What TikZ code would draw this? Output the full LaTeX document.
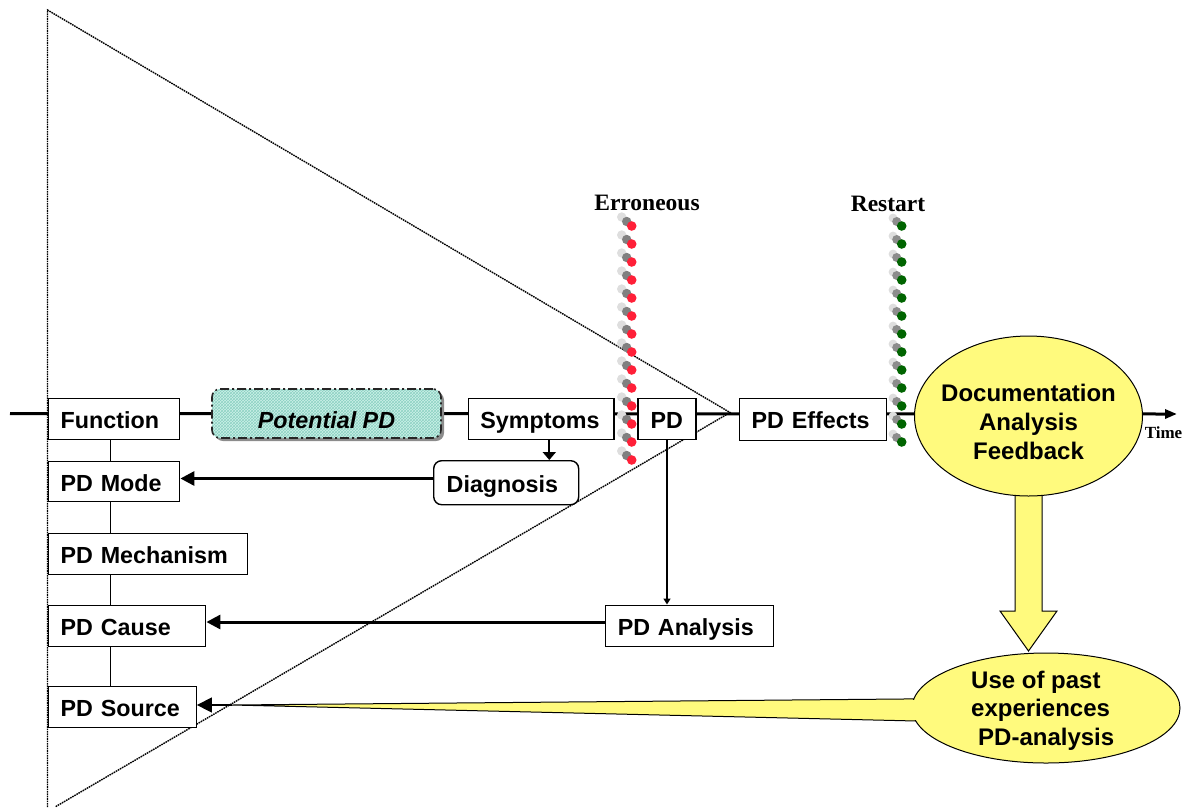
\documentclass[tikz,border=0pt]{standalone}
\usepackage{fontspec}
\setmainfont{Liberation Sans}
\newfontfamily\timesf{Liberation Serif}
\usetikzlibrary{arrows.meta,shapes.geometric,patterns,shadows}
\definecolor{yel}{RGB}{255,250,125}
\definecolor{mint}{RGB}{205,240,232}
\definecolor{hatch}{RGB}{140,210,195}
\definecolor{dotred}{RGB}{255,32,56}
\definecolor{dotgreen}{RGB}{0,100,0}
\definecolor{lgray}{RGB}{222,222,222}
\definecolor{mgray}{RGB}{128,128,128}
\begin{document}
\begin{tikzpicture}[x=1pt,y=-1pt,
  box/.style={draw, line width=1.4pt, fill=white, anchor=north west,
    font=\bfseries\fontsize{23.3}{27}\selectfont, inner xsep=12.5pt, inner ysep=0pt,
    align=left, text height=19pt, text depth=0pt},
  bigarrow/.style={line width=3pt, -{Triangle[length=14pt,width=14pt]}},
  thinlink/.style={line width=1pt},
  triline/.style={dash pattern=on 1.6pt off 0.8pt, line width=1.4pt},
  yshape/.style={fill=yel, draw=black, line width=1pt},
  ell/.style={ellipse, draw=black, line width=1pt, fill=yel, inner sep=0pt},
  elltext/.style={font=\bfseries\fontsize{24}{28.7}\selectfont, inner sep=0pt},
  toplabel/.style={font=\timesf\bfseries\fontsize{23.5}{28}\selectfont, anchor=base, inner sep=0pt}
]
\useasboundingbox (0,0) rectangle (1184,807);

% dotted triangle
\coordinate (tA) at (47.5,10);
\coordinate (tB) at (47.5,807);
\coordinate (tC) at (730,412.5);
\coordinate (tD) at (55,807);
\draw[triline] (tB) -- (tA) -- (tC) -- (tD);

% time line
\coordinate (tstart) at (10,413.5);
\coordinate (tend) at (1177,414);
\draw[line width=3pt, -{Triangle[length=12pt,width=9pt]}] (tstart) -- (tend);

% erroneous / restart dot columns
\foreach \i in {0,...,13} {
  \fill[lgray] (621.7,217+18*\i) circle[radius=4.7pt];
  \fill[mgray] (626.7,221.5+18*\i) circle[radius=4.7pt];
  \fill[dotred] (631.7,226+18*\i) circle[radius=4.8pt];
}
\foreach \i in {0,...,12} {
  \fill[lgray] (893,218+18*\i) circle[radius=4.4pt];
  \fill[black!45] (896.7,221.5+18*\i) circle[radius=4.5pt];
  \fill[dotgreen] (901.7,226+18*\i) circle[radius=4.8pt];
}
\node[toplabel] (err) at (647,210.7) {Erroneous};
\node[toplabel] (rst) at (888,211) {Restart};
\node[font=\timesf\bfseries\fontsize{17}{20}\selectfont, anchor=base, inner sep=0pt] (tim) at (1163.5,438) {Time};

% yellow block arrow and wedge
\draw[yshape] (1015,480) -- (1015,611) -- (1000,611) -- (1028.5,651) -- (1057,611) -- (1042,611) -- (1042,480) -- cycle;
\draw[yshape] (925,698.8) -- (232,705) -- (925,721.2) -- cycle;

% ellipses
\node[ell, minimum width=228pt, minimum height=160pt] (doc) at (1028.5,416) {};
\node[elltext, align=center] (doctxt) at (1028.5,422) {Documentation\\Analysis\\Feedback};
\node[ell, minimum width=268pt, minimum height=110pt] (use) at (1046,708) {};
\fill[yel] (906,699.8) rectangle (919,720.2);
\node[elltext, align=left, anchor=west] (usetxt) at (971,710.5) {Use of past\\experiences\\\hspace*{7pt}PD-analysis};

% boxes
\node[box, minimum height=41pt, text width=106.5pt] (fn) at (47.5,398) {Function};
\node[box, minimum height=40pt, text width=106.5pt] (pdmode) at (47.5,461) {PD Mode};
\node[box, minimum height=41pt, text width=174.5pt] (pdmech) at (47.5,533) {PD Mechanism};
\node[box, minimum height=41.5pt, text width=132.5pt] (pdcause) at (47.5,604.5) {PD Cause};
\node[box, minimum height=41pt, text width=123pt] (pdsource) at (47.5,686) {PD Source};
\node[box, minimum height=41pt, text width=121.6pt, inner xsep=12pt] (sym) at (467.7,397.5) {Symptoms};
\node[box, minimum height=41pt, text width=33pt] (pd) at (637.3,397.5) {PD};
\node[box, minimum height=41.5pt, text width=122.5pt] (pdeff) at (738.5,398) {PD Effects};
\node[box, minimum height=41.5pt, text width=143.4pt] (pdan) at (604.6,604.5) {PD Analysis};
\node[box, rounded corners=8pt, minimum height=44pt, text width=119pt, inner xsep=13pt] (diag) at (433,460) {Diagnosis};

\node[draw=black!85, line width=1.6pt, dash pattern=on 9pt off 3pt on 2pt off 3pt,
  rounded corners=8pt, minimum width=229pt, minimum height=49pt, inner sep=0pt,
  general shadow={shadow xshift=3pt, shadow yshift=-3pt, fill=black!45},
  preaction={fill=mint}, pattern=crosshatch, pattern color=hatch,
  font=\bfseries\itshape\fontsize{23.3}{27}\selectfont, text height=30.4pt, text depth=0pt]
  (pot) at (326.5,413.5) {Potential PD};

% connectors
\coordinate (vx) at (110,0);
\draw[thinlink] (fn.south -| vx) -- (pdmode.north -| vx);
\draw[thinlink] (pdmode.south -| vx) -- (pdmech.north -| vx);
\draw[thinlink] (pdmech.south -| vx) -- (pdcause.north -| vx);
\draw[thinlink] (pdcause.south -| vx) -- (pdsource.north -| vx);

\coordinate (dy) at (0,478.5);
\draw[bigarrow] (diag.west |- dy) -- (pdmode.east |- dy);
\coordinate (ay) at (0,622);
\draw[bigarrow] (pdan.west |- ay) -- (pdcause.east |- ay);

\coordinate (sx) at (549.3,0);
\draw[line width=2.2pt, -{Triangle[length=8pt,width=13pt]}] (sym.south -| sx) -- (diag.north -| sx);
\draw[line width=2.2pt, -{Triangle[length=6pt,width=7pt]}] (pd.south) -- (pd.south |- pdan.north);

\coordinate (wt) at (232,705);
\draw[line width=1.4pt, -{Triangle[length=15pt,width=15pt]}] (wt) -- (wt -| pdsource.east);
\end{tikzpicture}
\end{document}
